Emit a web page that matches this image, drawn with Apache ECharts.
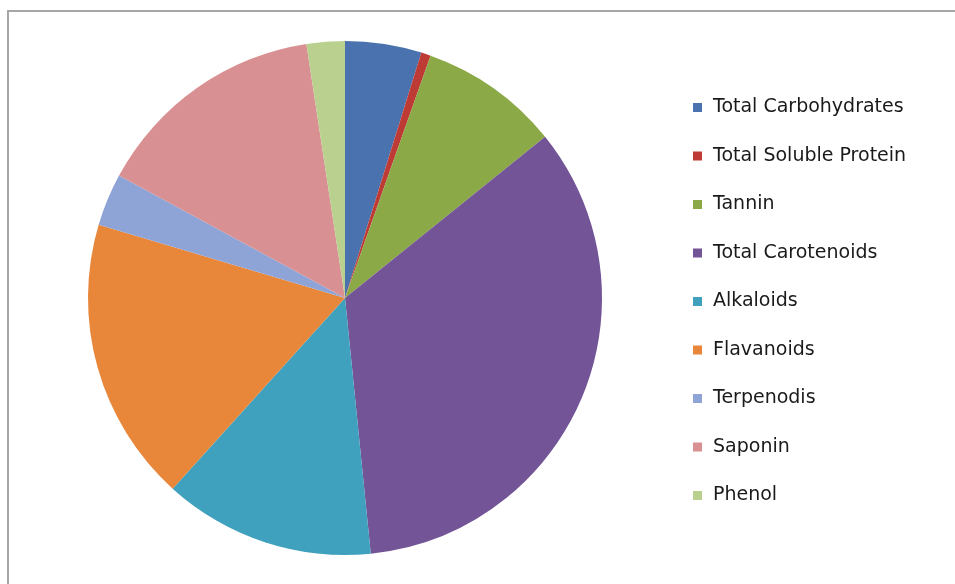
<!DOCTYPE html>
<html>
<head>
<meta charset="utf-8">
<script src="https://cdn.jsdelivr.net/npm/echarts@6/dist/echarts.min.js"></script>
<style>
  html, body { margin: 0; padding: 0; background: #fff; }
  #chart { width: 955px; height: 584px; }
</style>
</head>
<body>
<div id="chart"></div>
<script>
// values (share of the pie, %)
const categories = ['Total Carbohydrates', 'Total Soluble Protein', 'Tannin', 'Total Carotenoids',
  'Alkaloids', 'Flavanoids', 'Terpenodis', 'Saponin', 'Phenol'];
const values = [4.8, 0.6, 8.8, 34.2, 13.3, 17.9, 3.3, 14.7, 2.4];
const colors = ['#4A72AE', '#BE3A35', '#8BAA47', '#725497', '#3FA1BE', '#E8863A', '#8EA4D6', '#D99092', '#B9D08F'];

var chart = echarts.init(document.getElementById('chart'));
var option = {
  animation: false,
  color: colors,
  graphic: [
    {
      type: 'rect',
      shape: { x: 8, y: 11, width: 1000, height: 1000 },
      style: { fill: 'none', stroke: '#a6a6a6', lineWidth: 2 }
    }
  ],
  legend: {
    orient: 'vertical',
    left: 688,
    top: 93,
    icon: 'rect',
    itemWidth: 9,
    itemHeight: 9,
    itemGap: 29.5,
    textStyle: {
      fontFamily: 'DejaVu Sans',
      fontSize: 19,
      color: '#1a1a1a',
      padding: [0, 0, 0, 6]
    },
    data: categories
  },
  series: [
    {
      name: 'Share',
      type: 'pie',
      center: [345, 298],
      radius: 257,
      startAngle: 90,
      clockwise: true,
      label: { show: false },
      labelLine: { show: false },
      itemStyle: { borderWidth: 0 },
      data: categories.map(function (c, i) {
        return { name: c, value: values[i] };
      })
    }
  ]
};

chart.setOption(option);
</script>
</body>
</html>
